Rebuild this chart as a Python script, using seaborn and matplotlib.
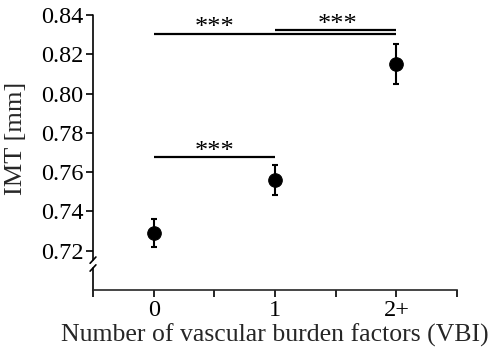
import numpy as np
import pandas as pd
import matplotlib
matplotlib.use('Agg')
import matplotlib.pyplot as plt
import seaborn as sns

# Data
groups = ['0', '1', '2+']
imt_mean = [0.729, 0.756, 0.815]
imt_err = [0.007, 0.0075, 0.010]

# significance brackets: (start, end, height)
brackets = [(0, 2, 0.8303), (1, 2, 0.8325), (0, 1, 0.7678)]
star_pos = [(0.5, 0.8303), (1.52, 0.8318), (0.5, 0.7672)]
star_text = ['***', '***', '***']

df = pd.DataFrame({'VBI': np.arange(len(groups)), 'IMT': imt_mean})

sns.set_style('ticks')
plt.rcParams['font.family'] = ['Liberation Serif', 'DejaVu Serif']

fig = plt.figure(figsize=(4.96, 3.61), dpi=100)
ax = fig.add_axes([93 / 496, 71 / 361, 364 / 496, 275 / 361])

ax.errorbar(df['VBI'], df['IMT'], yerr=imt_err, fmt='none', ecolor='black',
            elinewidth=1.5, capsize=2.5, capthick=1.5, zorder=2)
sns.scatterplot(data=df, x='VBI', y='IMT', color='black', s=95,
                edgecolor='black', ax=ax, zorder=3, legend=False)

for (a, b, h) in brackets:
    ax.plot([a, b], [h, h], color='black', lw=1.6, solid_capstyle='butt')
for (xp, yp), t in zip(star_pos, star_text):
    ax.text(xp, yp, t, ha='center', va='baseline', fontsize=19, color='black')

ax.set_xlim(-0.5, 2.5)
ax.set_ylim(0.70, 0.84)
ax.set_xticks([-0.5, 0, 0.5, 1, 1.5, 2, 2.5])
ax.set_xticklabels(['', groups[0], '', groups[1], '', groups[2], ''])
ax.set_yticks([0.72, 0.74, 0.76, 0.78, 0.80, 0.82, 0.84])
ax.set_yticklabels(['0.72', '0.74', '0.76', '0.78', '0.80', '0.82', '0.84'])
ax.tick_params(axis='both', direction='out', length=5, width=1.2,
               labelsize=17.5, colors='black', pad=2)

ax.spines['top'].set_visible(False)
ax.spines['right'].set_visible(False)
ax.spines['left'].set_visible(False)
ax.spines['bottom'].set_linewidth(1.2)

# left spine with axis break
tr = ax.get_yaxis_transform()
ax.plot([0, 0], [0.7152, 0.84], color='black', lw=1.2, transform=tr, clip_on=False)
ax.plot([0, 0], [0.70, 0.7112], color='black', lw=1.2, transform=tr, clip_on=False)
dx = 0.008
for yb in [0.7152, 0.7112]:
    ax.plot([-dx, dx], [yb - 0.0016, yb + 0.0016], color='black', lw=1.2,
            transform=tr, clip_on=False)

ax.set_xlabel('Number of vascular burden factors (VBI)', fontsize=18.5, labelpad=2)
ax.set_ylabel('IMT [mm]', fontsize=19)
ax.yaxis.set_label_coords(-0.181, 0.553)

fig.savefig('out.png', dpi=100)
